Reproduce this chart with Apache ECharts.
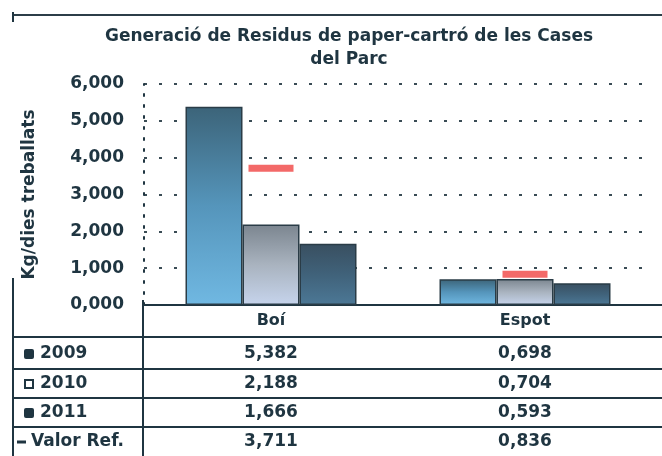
<!DOCTYPE html>
<html>
<head>
<meta charset="utf-8">
<script src="https://cdn.jsdelivr.net/npm/echarts@6/dist/echarts.min.js"></script>
<style>
  html, body { margin: 0; padding: 0; background: #fff; }
  #chart { width: 662px; height: 456px; }
</style>
</head>
<body>
<div id="chart"></div>
<script>
// dades (kg/dies treballats)
const categories = ['Boí', 'Espot'];
const seriesNames = ['2009', '2010', '2011', 'Valor Ref.'];
const data2009 = [5.382, 0.698];
const data2010 = [2.188, 0.704];
const data2011 = [1.666, 0.593];
const valorRef = [3.711, 0.836];
const yMin = 0, yMax = 6, yStep = 1;

const ink = '#1f3541';
const font = 'DejaVu Sans';

// format amb coma decimal
function fmt(v) {
  return v.toFixed(3).replace('.', ',');
}

function grad(top, mid, bottom) {
  return new echarts.graphic.LinearGradient(0, 0, 0, 1, [
    { offset: 0, color: top },
    { offset: 0.5, color: mid },
    { offset: 1, color: bottom }
  ]);
}

const chart = echarts.init(document.getElementById('chart'));

const option = {
  animation: false,
  title: {
    text: 'Generació de Residus de paper-cartró de les Cases\ndel Parc',
    left: 344,
    top: 20,
    textAlign: 'center',
    textStyle: { fontFamily: font, fontSize: 17, fontWeight: 'bold', color: ink, lineHeight: 23 }
  },
  grid: { left: 144, right: 10, top: 84, bottom: 151 },
  xAxis: {
    type: 'category',
    data: categories,
    axisLine: { show: false },
    axisTick: { show: false },
    axisLabel: { margin: 8, fontFamily: font, fontSize: 16, fontWeight: 'bold', color: ink }
  },
  yAxis: {
    type: 'value',
    min: yMin,
    max: yMax,
    interval: yStep,
    name: 'Kg/dies treballats',
    nameLocation: 'middle',
    nameGap: 106,
    nameTextStyle: { fontFamily: font, fontSize: 17, fontWeight: 'bold', color: ink },
    axisLine: { show: true, lineStyle: { color: ink, width: 2, type: [2, 9] } },
    axisTick: { show: false },
    axisLabel: {
      margin: 20,
      formatter: fmt,
      fontFamily: font, fontSize: 17, fontWeight: 'bold', color: ink
    },
    splitLine: { lineStyle: { color: '#3a4c55', width: 2, type: [3, 12] } }
  },
  series: [
    {
      name: seriesNames[0], type: 'bar', data: data2009,
      barWidth: 57, barGap: '0%',
      itemStyle: { color: grad('#3c6479', '#5595bb', '#70b8e2'), borderColor: '#2a3c47', borderWidth: 1.5 }
    },
    {
      name: seriesNames[1], type: 'bar', data: data2010,
      barWidth: 57, barGap: '0%',
      itemStyle: { color: grad('#7b858f', '#a9b3bf', '#c6d4ec'), borderColor: '#2a3c47', borderWidth: 1.5 }
    },
    {
      name: seriesNames[2], type: 'bar', data: data2011,
      barWidth: 57, barGap: '0%',
      itemStyle: { color: grad('#394f60', '#40627a', '#4c7896'), borderColor: '#2a3c47', borderWidth: 1.5 }
    },
    {
      // valor de referència: marca horitzontal vermella
      name: seriesNames[3], type: 'scatter', data: valorRef,
      symbol: 'rect', symbolSize: [45, 7], z: 5,
      itemStyle: { color: '#f04442' }
    }
  ]
};
chart.setOption(option);

// taula de dades sota el gràfic
function buildTable() {
  const g = [];
  const right = 662;
  const left = 13;
  const colX = 143;
  const rowLines = [337, 369, 398, 427];
  const rowMid = [354, 384, 413, 442];
  const lineStyle = { stroke: ink, lineWidth: 2 };
  const cellFont = 'bold 17px "DejaVu Sans"';

  // marc
  g.push({ type: 'line', shape: { x1: left, y1: 15, x2: right, y2: 15 }, style: { stroke: '#2c3e48', lineWidth: 2 } });
  g.push({ type: 'line', shape: { x1: left, y1: 12, x2: left, y2: 22 }, style: lineStyle });
  g.push({ type: 'line', shape: { x1: left, y1: 278, x2: left, y2: 456 }, style: lineStyle });
  g.push({ type: 'line', shape: { x1: colX, y1: 305, x2: right, y2: 305 }, style: lineStyle });
  g.push({ type: 'line', shape: { x1: colX, y1: 300, x2: colX, y2: 456 }, style: lineStyle });
  rowLines.forEach(function (y) {
    g.push({ type: 'line', shape: { x1: left, y1: y, x2: right, y2: y }, style: lineStyle });
  });

  const rows = [data2009, data2010, data2011, valorRef];
  rows.forEach(function (vals, i) {
    const y = rowMid[i];
    // clau de llegenda
    if (i === 3) {
      g.push({ type: 'rect', shape: { x: 17, y: y - 1.5, width: 9, height: 3 }, style: { fill: ink } });
    } else if (i === 1) {
      g.push({ type: 'rect', shape: { x: 25, y: y - 4, width: 8, height: 8 }, style: { fill: '#fff', stroke: ink, lineWidth: 2 } });
    } else {
      g.push({ type: 'rect', shape: { x: 24, y: y - 5, width: 10, height: 10, r: 2 }, style: { fill: ink } });
    }
    g.push({
      type: 'text', x: i === 3 ? 31 : 40, y: y, silent: true,
      style: { text: seriesNames[i], font: cellFont, fill: ink, verticalAlign: 'middle' }
    });
    vals.forEach(function (v, j) {
      const x = chart.convertToPixel({ xAxisIndex: 0 }, categories[j]);
      g.push({
        type: 'text', x: x, y: y, silent: true,
        style: { text: fmt(v), font: cellFont, fill: ink, align: 'center', verticalAlign: 'middle' }
      });
    });
  });
  chart.setOption({ graphic: g });
}
buildTable();
</script>
</body>
</html>
